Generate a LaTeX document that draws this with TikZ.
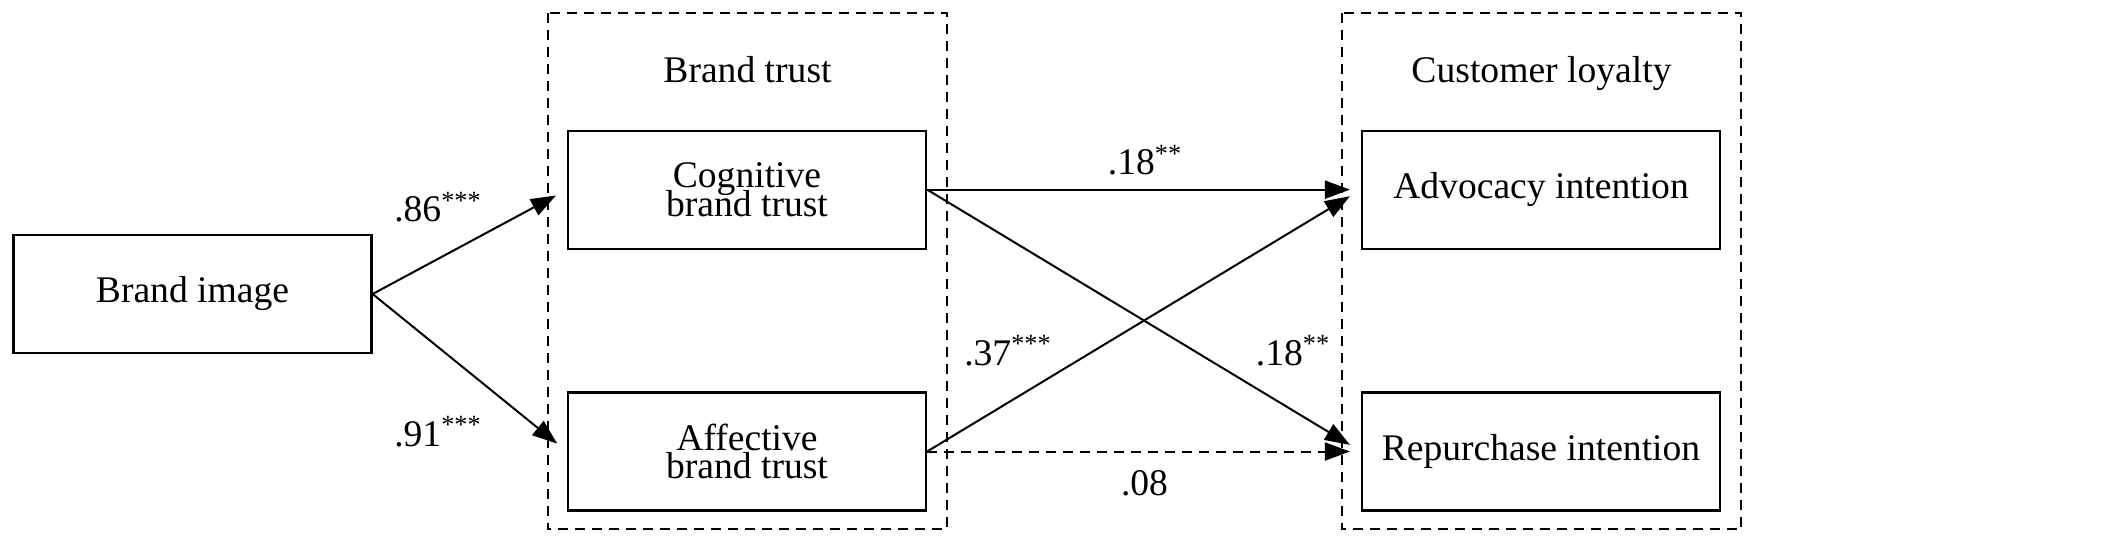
\documentclass[tikz,border=0pt]{standalone}
\usepackage{fontspec}
\setmainfont{Liberation Serif}
\usetikzlibrary{arrows.meta}

\newcommand{\nodefont}{\fontsize{18.8}{14.4}\selectfont\lineskiplimit=-20pt\relax}

\tikzset{
  varbox/.style={draw, line width=1.1pt, minimum width=179pt, minimum height=59pt, inner sep=0pt, align=center},
  cluster/.style={line width=1pt, dash pattern=on 5pt off 3.5pt},
  link/.style={line width=1pt, -{Triangle[length=12.5pt,width=9pt]}},
  coef/.style={anchor=base, inner sep=0pt},
}

\begin{document}
\begin{tikzpicture}[x=0.5pt,y=0.5pt,yscale=-1,xscale=1,font=\nodefont]
\useasboundingbox (0,0) rectangle (2126,543);

%Shape: Rectangle (brand trust cluster)
\draw [cluster] (548,12.8) rectangle (947,529.4);
%Shape: Rectangle (customer loyalty cluster)
\draw [cluster] (1342.3,12.8) rectangle (1741,529.4);

% Text Node
\node (trustlbl) [coef] at (747.5,82) {Brand trust};
% Text Node
\node (loyaltylbl) [coef] at (1541.5,82) {Customer loyalty};

%Shape: Boxes
\node (brandimg) [varbox] at (192.5,294) {Brand image};
\node (cog) [varbox] at (747,189.6) {Cognitive\\brand trust};
\node (aff) [varbox] at (747,451.5) {Affective\\brand trust};
\node (adv) [varbox] at (1541,189.6) {Advocacy intention};
\node (rep) [varbox] at (1541,451.5) {Repurchase intention};

%Straight Lines
\draw [link, shorten >=6.2pt] (brandimg.east) -- (cog.west);
\draw [link, shorten >=6.2pt] (brandimg.east) -- (aff.west);
\draw [link, shorten >=5.5pt] (cog.east) -- (adv.west);
\draw [link, shorten >=6.4pt] (cog.east) -- (rep.west);
\draw [link, shorten >=6.4pt] (aff.east) -- (adv.west);
\draw [link, shorten >=5.5pt, dash pattern=on 5pt off 3.5pt] (aff.east) -- (rep.west);

% Text Node
\node (c86) [coef] at (438,221.7) {.86\textsuperscript{***}};
% Text Node
\node (c91) [coef] at (438,446.4) {.91\textsuperscript{***}};
% Text Node
\node (c18a) [coef] at (1145,174.7) {.18\textsuperscript{**}};
% Text Node
\node (c37) [coef] at (1008,365) {.37\textsuperscript{***}};
% Text Node
\node (c18b) [coef] at (1293,365) {.18\textsuperscript{**}};
% Text Node
\node (c08) [coef] at (1144.5,495) {.08};
\end{tikzpicture}
\end{document}
